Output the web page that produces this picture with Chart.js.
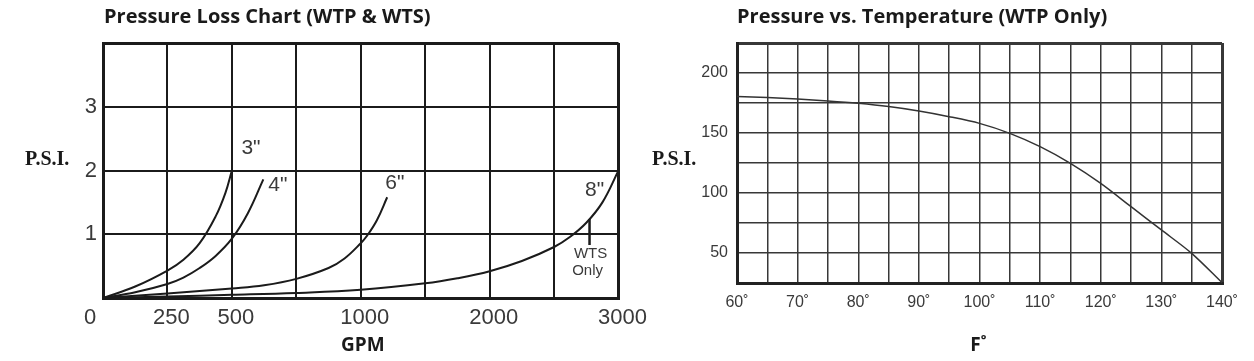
<!DOCTYPE html>
<html><head><meta charset="utf-8">
<script src="https://cdn.jsdelivr.net/npm/chart.js@4/dist/chart.umd.min.js"></script>
<style>
html,body{margin:0;padding:0;background:#fff;}
#wrap{position:relative;width:1254px;height:361px;overflow:hidden;background:#fff;}
#c1{position:absolute;left:0;top:0;}
#c2{position:absolute;left:650px;top:0;}
</style></head><body>
<div id="wrap"><canvas id="c1" width="650" height="361"></canvas><canvas id="c2" width="604" height="361"></canvas></div>
<script>
// ---------- Data: Pressure Loss Chart (WTP & WTS) ----------
const gpmGrid = [0, 250, 500, 750, 1000, 1500, 2000, 2500, 3000];   // value at each vertical grid line
const gpmTickLabels = ['0', '250', '500', '', '1000', '', '2000', '', '3000'];
const psiLossTicks = ['', '1', '2', '3', ''];

const flow3 = [0, 125, 250, 312, 375, 437, 475, 500];
const loss3 = [0, 0.18, 0.43, 0.6, 0.86, 1.28, 1.65, 2.0];

const flow4 = [0, 125, 250, 312, 375, 437, 500, 562, 622];
const loss4 = [0, 0.09, 0.22, 0.32, 0.47, 0.66, 0.93, 1.33, 1.86];

const flow6 = [0, 250, 500, 625, 750, 875, 937, 1000, 1050, 1125, 1205];
const loss6 = [0, 0.07, 0.15, 0.2, 0.3, 0.47, 0.62, 0.86, 0.98, 1.22, 1.58];

const flow8 = [0, 250, 500, 750, 1000, 1500, 1750, 2000, 2250, 2500, 2625, 2750, 2875, 3000];
const loss8 = [0, 0.025, 0.05, 0.08, 0.13, 0.23, 0.31, 0.42, 0.58, 0.8, 0.96, 1.18, 1.5, 2.0];

const wtsFlow = [2775, 2775];
const wtsLoss = [1.24, 0.83];

const sizeLabels = ['3"', '4"', '6"', '8"'];
const sizeLabelFlow = [574, 678, 1264, 2814];
const sizeLabelLoss = [2.35, 1.77, 1.80, 1.69];

// ---------- Data: Pressure vs. Temperature (WTP Only) ----------
const tempF = [60, 65, 70, 75, 80, 85, 90, 95, 100, 105, 110, 115, 120, 125, 130, 135, 140];
const pressurePsi = [180.4, 179.6, 178.3, 176.7, 174.7, 172.0, 168.3, 163.6, 158.0, 149.7, 138.6, 124.7, 108.0, 88.6, 69.2, 49.7, 25.3];
const tempTickLabels = ['60˚', '70˚', '80˚', '90˚', '100˚', '110˚', '120˚', '130˚', '140˚'];
const pressureTickLabels = ['50', '100', '150', '200'];

// ---------- helpers ----------
function gpmToGrid(g) {
  for (let i = 0; i < gpmGrid.length - 1; i++) {
    if (g <= gpmGrid[i + 1]) return i + (g - gpmGrid[i]) / (gpmGrid[i + 1] - gpmGrid[i]);
  }
  return gpmGrid.length - 1;
}
function pts(xs, ys, fx) { return xs.map((x, i) => ({ x: fx ? fx(x) : x, y: ys[i] })); }

function textLayer(items) {
  return {
    id: 'textLayer',
    afterDraw(chart) {
      const ctx = chart.ctx;
      ctx.save();
      items.forEach(it => {
        const p = it.pos(chart);
        ctx.font = it.font;
        ctx.fillStyle = it.color || '#222';
        ctx.textAlign = it.align || 'center';
        ctx.textBaseline = it.baseline || 'middle';
        ctx.fillText(it.text, p.x, p.y);
      });
      ctx.restore();
    }
  };
}

const lineCol = '#1b1b1b';
const tickCol = '#3a3a3a';
const curveBase = { showLine: true, pointRadius: 0, borderColor: lineCol, borderWidth: 2, tension: 0.4, fill: false };

// ---------- Left chart ----------
const leftItems = [
  { text: 'Pressure Loss Chart (WTP & WTS)', font: 'bold 20px "Open Sans"', color: '#1a1a1a', align: 'left', baseline: 'alphabetic', pos: c => ({ x: c.chartArea.left + 1, y: 23 }) },
  { text: 'P.S.I.', font: 'bold 20px "Liberation Serif"', color: '#1a1a1a', align: 'left', pos: c => ({ x: 25, y: 160 }) },
  { text: 'GPM', font: 'bold 19px "Open Sans"', color: '#1a1a1a', baseline: 'alphabetic', pos: c => ({ x: (c.chartArea.left + c.chartArea.right) / 2 + 2, y: 351 }) },
  { text: gpmTickLabels[0], font: '22px "Liberation Sans"', color: tickCol, pos: c => ({ x: c.scales.x.getPixelForValue(0) - 13, y: c.chartArea.bottom + 20 }) },
  { text: 'WTS', font: '15px "Liberation Sans"', color: tickCol, pos: c => ({ x: c.scales.x.getPixelForValue(gpmToGrid(2783)), y: c.scales.y.getPixelForValue(0.70) }) },
  { text: 'Only', font: '15px "Liberation Sans"', color: tickCol, pos: c => ({ x: c.scales.x.getPixelForValue(gpmToGrid(2760)), y: c.scales.y.getPixelForValue(0.43) }) },
];
sizeLabels.forEach((t, i) => leftItems.push({
  text: t, font: '21px "Liberation Sans"', color: tickCol,
  pos: c => ({ x: c.scales.x.getPixelForValue(gpmToGrid(sizeLabelFlow[i])), y: c.scales.y.getPixelForValue(sizeLabelLoss[i]) })
}));

new Chart(document.getElementById('c1'), {
  type: 'scatter',
  data: {
    datasets: [
      Object.assign({ label: '3"', data: pts(flow3, loss3, gpmToGrid) }, curveBase),
      Object.assign({ label: '4"', data: pts(flow4, loss4, gpmToGrid) }, curveBase),
      Object.assign({ label: '6"', data: pts(flow6, loss6, gpmToGrid) }, curveBase),
      Object.assign({ label: '8"', data: pts(flow8, loss8, gpmToGrid) }, curveBase),
      Object.assign({}, curveBase, { label: 'WTS Only', data: pts(wtsFlow, wtsLoss, gpmToGrid), borderWidth: 2.5, tension: 0 }),
    ]
  },
  options: {
    responsive: false, animation: false, devicePixelRatio: 1,
    layout: { padding: { left: 0, right: 31, top: 43, bottom: 0 } },
    plugins: { legend: { display: false }, tooltip: { enabled: false }, title: { display: false } },
    scales: {
      x: {
        type: 'linear', min: 0, max: gpmGrid.length - 1,
        afterFit: s => { s.height = 63; },
        ticks: { stepSize: 1, autoSkip: false, maxRotation: 0, padding: 7, labelOffset: 4, color: tickCol,
          font: { family: 'Liberation Sans', size: 22 },
          callback: v => (v === 0 ? '' : (gpmTickLabels[v] || '')) },
        grid: { color: lineCol, lineWidth: c => (c.index === 0 || c.index === gpmGrid.length - 1) ? 3 : 2, drawTicks: false },
        border: { color: lineCol, width: 3 }
      },
      y: {
        type: 'linear', min: 0, max: psiLossTicks.length - 1,
        afterFit: s => { s.width = 103; },
        ticks: { stepSize: 1, padding: 6, color: tickCol, font: { family: 'Liberation Sans', size: 22 },
          callback: v => psiLossTicks[v] || '' },
        grid: { color: lineCol, lineWidth: c => (c.index === 0 || c.index === psiLossTicks.length - 1) ? 3 : 2, drawTicks: false },
        border: { color: lineCol, width: 3 }
      }
    }
  },
  plugins: [textLayer(leftItems)]
});

// ---------- Right chart ----------
const rightItems = [
  { text: 'Pressure vs. Temperature (WTP Only)', font: 'bold 20px "Open Sans"', color: '#1a1a1a', align: 'left', baseline: 'alphabetic', pos: c => ({ x: c.chartArea.left, y: 23 }) },
  { text: 'P.S.I.', font: 'bold 20px "Liberation Serif"', color: '#1a1a1a', align: 'left', pos: c => ({ x: 2, y: 160 }) },
  { text: 'F˚', font: 'bold 19px "Open Sans"', color: '#1a1a1a', baseline: 'alphabetic', pos: c => ({ x: (c.chartArea.left + c.chartArea.right) / 2 - 1, y: 351 }) },
];

new Chart(document.getElementById('c2'), {
  type: 'scatter',
  data: {
    datasets: [
      Object.assign({}, curveBase, { label: 'Pressure', data: pts(tempF, pressurePsi), borderColor: '#333', borderWidth: 1.5, tension: 0.3 })
    ]
  },
  options: {
    responsive: false, animation: false, devicePixelRatio: 1,
    layout: { padding: { left: 0, right: 32, top: 43, bottom: 0 } },
    plugins: { legend: { display: false }, tooltip: { enabled: false }, title: { display: false } },
    scales: {
      x: {
        type: 'linear', min: 60, max: 140,
        afterFit: s => { s.height = 78; },
        ticks: { stepSize: 5, autoSkip: false, maxRotation: 0, padding: 10, color: tickCol,
          font: { family: 'Liberation Sans', size: 16 },
          callback: v => (v % 10 === 0 ? tempTickLabels[(v - 60) / 10] : '') },
        grid: { color: '#383838', lineWidth: c => (c.index === 0 || c.index === 16) ? 3 : 1.5, drawTicks: false },
        border: { color: '#222', width: 3 }
      },
      y: {
        type: 'linear', min: 25, max: 225,
        afterFit: s => { s.width = 87; },
        ticks: { stepSize: 25, padding: 9, color: tickCol, font: { family: 'Liberation Sans', size: 16 },
          callback: v => (v % 50 === 0 ? pressureTickLabels[v / 50 - 1] : '') },
        grid: { color: '#383838', lineWidth: c => (c.index === 0 || c.index === 8) ? 3 : 1.5, drawTicks: false },
        border: { color: '#222', width: 3 }
      }
    }
  },
  plugins: [textLayer(rightItems)]
});
</script>
</body></html>
